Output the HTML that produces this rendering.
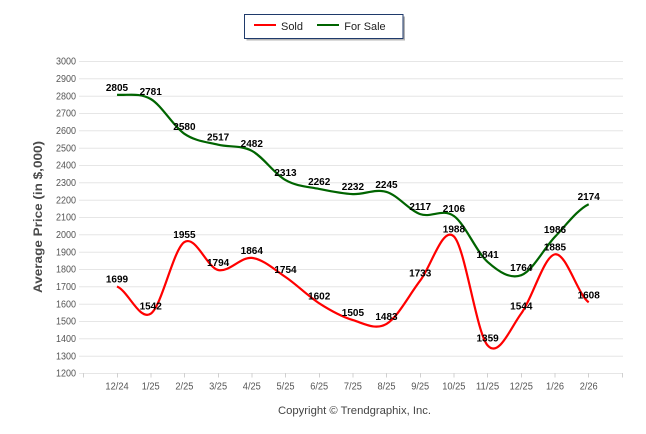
<!DOCTYPE html>
<html><head><meta charset="utf-8"><style>
html,body{margin:0;padding:0;background:#fff;}
svg{display:block;}
text{font-family:"Liberation Sans",Arial,sans-serif;}
</style></head><body>
<svg width="646" height="434" viewBox="0 0 646 434" xmlns="http://www.w3.org/2000/svg">
<rect width="646" height="434" fill="#fff"/>
<!-- legend -->
<rect x="246.5" y="16.5" width="158.5" height="24" fill="#b4b4b4"/>
<rect x="244.5" y="14.5" width="158.5" height="24" fill="#fff" stroke="#1f3a6b" stroke-width="1"/>
<line x1="254" y1="25" x2="276" y2="25" stroke="#ff0000" stroke-width="2"/>
<text x="281" y="30" font-size="11" fill="#222" textLength="22" lengthAdjust="spacingAndGlyphs">Sold</text>
<line x1="317" y1="25" x2="339" y2="25" stroke="#006400" stroke-width="2"/>
<text x="344.3" y="30" font-size="11" fill="#222" textLength="41.3" lengthAdjust="spacingAndGlyphs">For Sale</text>
<!-- gridlines -->
<g stroke="#e6e6e6" stroke-width="1">
<line x1="79" y1="61.5" x2="623" y2="61.5"/>
<line x1="79" y1="78.8" x2="623" y2="78.8"/>
<line x1="79" y1="96.2" x2="623" y2="96.2"/>
<line x1="79" y1="113.5" x2="623" y2="113.5"/>
<line x1="79" y1="130.8" x2="623" y2="130.8"/>
<line x1="79" y1="148.2" x2="623" y2="148.2"/>
<line x1="79" y1="165.5" x2="623" y2="165.5"/>
<line x1="79" y1="182.8" x2="623" y2="182.8"/>
<line x1="79" y1="200.2" x2="623" y2="200.2"/>
<line x1="79" y1="217.5" x2="623" y2="217.5"/>
<line x1="79" y1="234.8" x2="623" y2="234.8"/>
<line x1="79" y1="252.2" x2="623" y2="252.2"/>
<line x1="79" y1="269.5" x2="623" y2="269.5"/>
<line x1="79" y1="286.8" x2="623" y2="286.8"/>
<line x1="79" y1="304.2" x2="623" y2="304.2"/>
<line x1="79" y1="321.5" x2="623" y2="321.5"/>
<line x1="79" y1="338.8" x2="623" y2="338.8"/>
<line x1="79" y1="356.2" x2="623" y2="356.2"/>
<line x1="79" y1="373.5" x2="623" y2="373.5"/>
</g>
<!-- x ticks -->
<g stroke="#d0d0d0" stroke-width="1">
<line x1="83.5" y1="373" x2="83.5" y2="377.5"/>
<line x1="117.5" y1="373" x2="117.5" y2="377.5"/>
<line x1="151" y1="373" x2="151" y2="377.5"/>
<line x1="184.5" y1="373" x2="184.5" y2="377.5"/>
<line x1="218.5" y1="373" x2="218.5" y2="377.5"/>
<line x1="252" y1="373" x2="252" y2="377.5"/>
<line x1="285.5" y1="373" x2="285.5" y2="377.5"/>
<line x1="319.5" y1="373" x2="319.5" y2="377.5"/>
<line x1="353" y1="373" x2="353" y2="377.5"/>
<line x1="386.5" y1="373" x2="386.5" y2="377.5"/>
<line x1="420.5" y1="373" x2="420.5" y2="377.5"/>
<line x1="454" y1="373" x2="454" y2="377.5"/>
<line x1="487.5" y1="373" x2="487.5" y2="377.5"/>
<line x1="521.5" y1="373" x2="521.5" y2="377.5"/>
<line x1="555" y1="373" x2="555" y2="377.5"/>
<line x1="588.5" y1="373" x2="588.5" y2="377.5"/>
<line x1="622.5" y1="373" x2="622.5" y2="377.5"/>
</g>
<!-- y labels -->
<g font-size="10" fill="#555">
<text x="56" y="64.7" textLength="20" lengthAdjust="spacingAndGlyphs">3000</text>
<text x="56" y="82" textLength="20" lengthAdjust="spacingAndGlyphs">2900</text>
<text x="56" y="99.4" textLength="20" lengthAdjust="spacingAndGlyphs">2800</text>
<text x="56" y="116.7" textLength="20" lengthAdjust="spacingAndGlyphs">2700</text>
<text x="56" y="134" textLength="20" lengthAdjust="spacingAndGlyphs">2600</text>
<text x="56" y="151.4" textLength="20" lengthAdjust="spacingAndGlyphs">2500</text>
<text x="56" y="168.7" textLength="20" lengthAdjust="spacingAndGlyphs">2400</text>
<text x="56" y="186" textLength="20" lengthAdjust="spacingAndGlyphs">2300</text>
<text x="56" y="203.4" textLength="20" lengthAdjust="spacingAndGlyphs">2200</text>
<text x="56" y="220.7" textLength="20" lengthAdjust="spacingAndGlyphs">2100</text>
<text x="56" y="238" textLength="20" lengthAdjust="spacingAndGlyphs">2000</text>
<text x="56" y="255.4" textLength="20" lengthAdjust="spacingAndGlyphs">1900</text>
<text x="56" y="272.7" textLength="20" lengthAdjust="spacingAndGlyphs">1800</text>
<text x="56" y="290" textLength="20" lengthAdjust="spacingAndGlyphs">1700</text>
<text x="56" y="307.4" textLength="20" lengthAdjust="spacingAndGlyphs">1600</text>
<text x="56" y="324.7" textLength="20" lengthAdjust="spacingAndGlyphs">1500</text>
<text x="56" y="342" textLength="20" lengthAdjust="spacingAndGlyphs">1400</text>
<text x="56" y="359.4" textLength="20" lengthAdjust="spacingAndGlyphs">1300</text>
<text x="56" y="376.7" textLength="20" lengthAdjust="spacingAndGlyphs">1200</text>
</g>
<!-- x labels -->
<g font-size="10" fill="#555">
<text x="105.4" y="389.5" textLength="23.3" lengthAdjust="spacingAndGlyphs">12/24</text>
<text x="141.7" y="389.5" textLength="18" lengthAdjust="spacingAndGlyphs">1/25</text>
<text x="175.4" y="389.5" textLength="18" lengthAdjust="spacingAndGlyphs">2/25</text>
<text x="209.1" y="389.5" textLength="18" lengthAdjust="spacingAndGlyphs">3/25</text>
<text x="242.8" y="389.5" textLength="18" lengthAdjust="spacingAndGlyphs">4/25</text>
<text x="276.5" y="389.5" textLength="18" lengthAdjust="spacingAndGlyphs">5/25</text>
<text x="310.2" y="389.5" textLength="18" lengthAdjust="spacingAndGlyphs">6/25</text>
<text x="343.9" y="389.5" textLength="18" lengthAdjust="spacingAndGlyphs">7/25</text>
<text x="377.5" y="389.5" textLength="18" lengthAdjust="spacingAndGlyphs">8/25</text>
<text x="411.2" y="389.5" textLength="18" lengthAdjust="spacingAndGlyphs">9/25</text>
<text x="442.2" y="389.5" textLength="23.3" lengthAdjust="spacingAndGlyphs">10/25</text>
<text x="475.9" y="389.5" textLength="23.3" lengthAdjust="spacingAndGlyphs">11/25</text>
<text x="509.6" y="389.5" textLength="23.3" lengthAdjust="spacingAndGlyphs">12/25</text>
<text x="546" y="389.5" textLength="18" lengthAdjust="spacingAndGlyphs">1/26</text>
<text x="579.7" y="389.5" textLength="18" lengthAdjust="spacingAndGlyphs">2/26</text>
</g>
<!-- axis title -->
<text transform="translate(42,293) rotate(-90)" x="0" y="0" font-size="12" font-weight="bold" fill="#4a4a4a" textLength="152" lengthAdjust="spacingAndGlyphs">Average Price (in $,000)</text>
<!-- series -->
<path fill="none" stroke="#ff0000" stroke-width="2.2" stroke-linejoin="round" d="M117.0,286.5 C128.2,291.0 139.5,321.1 150.7,313.7 C161.9,306.3 173.2,249.4 184.4,242.1 C195.6,234.8 206.9,267.4 218.1,270.0 C229.3,272.6 240.6,256.7 251.8,257.9 C263.0,259.1 274.3,269.4 285.5,277.0 C296.7,284.6 308.0,296.1 319.2,303.3 C330.4,310.5 341.7,316.7 352.9,320.1 C364.1,323.5 375.3,330.5 386.5,323.9 C397.7,317.3 409.0,295.2 420.2,280.6 C431.4,266.0 442.7,225.6 453.9,236.4 C465.1,247.2 476.4,332.6 487.6,345.4 C498.8,358.2 510.1,328.6 521.3,313.4 C532.5,298.2 543.8,256.2 555.0,254.3 C566.2,252.4 577.5,294.3 588.7,302.3"/>
<path fill="none" stroke="#006400" stroke-width="2.2" stroke-linejoin="round" d="M117.0,94.8 C128.2,95.5 139.5,92.5 150.7,99.0 C161.9,105.5 173.2,126.2 184.4,133.8 C195.6,141.4 206.9,141.9 218.1,144.7 C229.3,147.5 240.6,144.9 251.8,150.8 C263.0,156.7 274.3,173.8 285.5,180.1 C296.7,186.5 308.0,186.6 319.2,188.9 C330.4,191.2 341.7,193.6 352.9,194.1 C364.1,194.6 375.3,188.6 386.5,191.9 C397.7,195.2 409.0,210.1 420.2,214.1 C431.4,218.1 442.7,208.0 453.9,216.0 C465.1,224.0 476.4,252.0 487.6,261.9 C498.8,271.8 510.1,279.4 521.3,275.2 C532.5,271.0 543.8,248.6 555.0,236.8 C566.2,225.0 577.5,209.6 588.7,204.2"/>
<!-- data labels -->
<g font-size="10" font-weight="bold" fill="#000" text-anchor="middle">
<text x="117.0" y="282.5">1699</text>
<text x="150.7" y="309.7">1542</text>
<text x="184.4" y="238.1">1955</text>
<text x="218.1" y="266.0">1794</text>
<text x="251.8" y="253.9">1864</text>
<text x="285.5" y="273.0">1754</text>
<text x="319.2" y="299.3">1602</text>
<text x="352.9" y="316.1">1505</text>
<text x="386.5" y="319.9">1483</text>
<text x="420.2" y="276.6">1733</text>
<text x="453.9" y="232.4">1988</text>
<text x="487.6" y="341.4">1359</text>
<text x="521.3" y="309.4">1544</text>
<text x="555.0" y="250.3">1885</text>
<text x="588.7" y="298.3">1608</text>
<text x="117.0" y="90.8">2805</text>
<text x="150.7" y="95.0">2781</text>
<text x="184.4" y="129.8">2580</text>
<text x="218.1" y="140.7">2517</text>
<text x="251.8" y="146.8">2482</text>
<text x="285.5" y="176.1">2313</text>
<text x="319.2" y="184.9">2262</text>
<text x="352.9" y="190.1">2232</text>
<text x="386.5" y="187.9">2245</text>
<text x="420.2" y="210.1">2117</text>
<text x="453.9" y="212.0">2106</text>
<text x="487.6" y="257.9">1841</text>
<text x="521.3" y="271.2">1764</text>
<text x="555.0" y="232.8">1986</text>
<text x="588.7" y="200.2">2174</text>
</g>
<!-- copyright -->
<text x="278" y="414" font-size="11" fill="#444" textLength="153" lengthAdjust="spacingAndGlyphs">Copyright © Trendgraphix, Inc.</text>
</svg>
</body></html>
